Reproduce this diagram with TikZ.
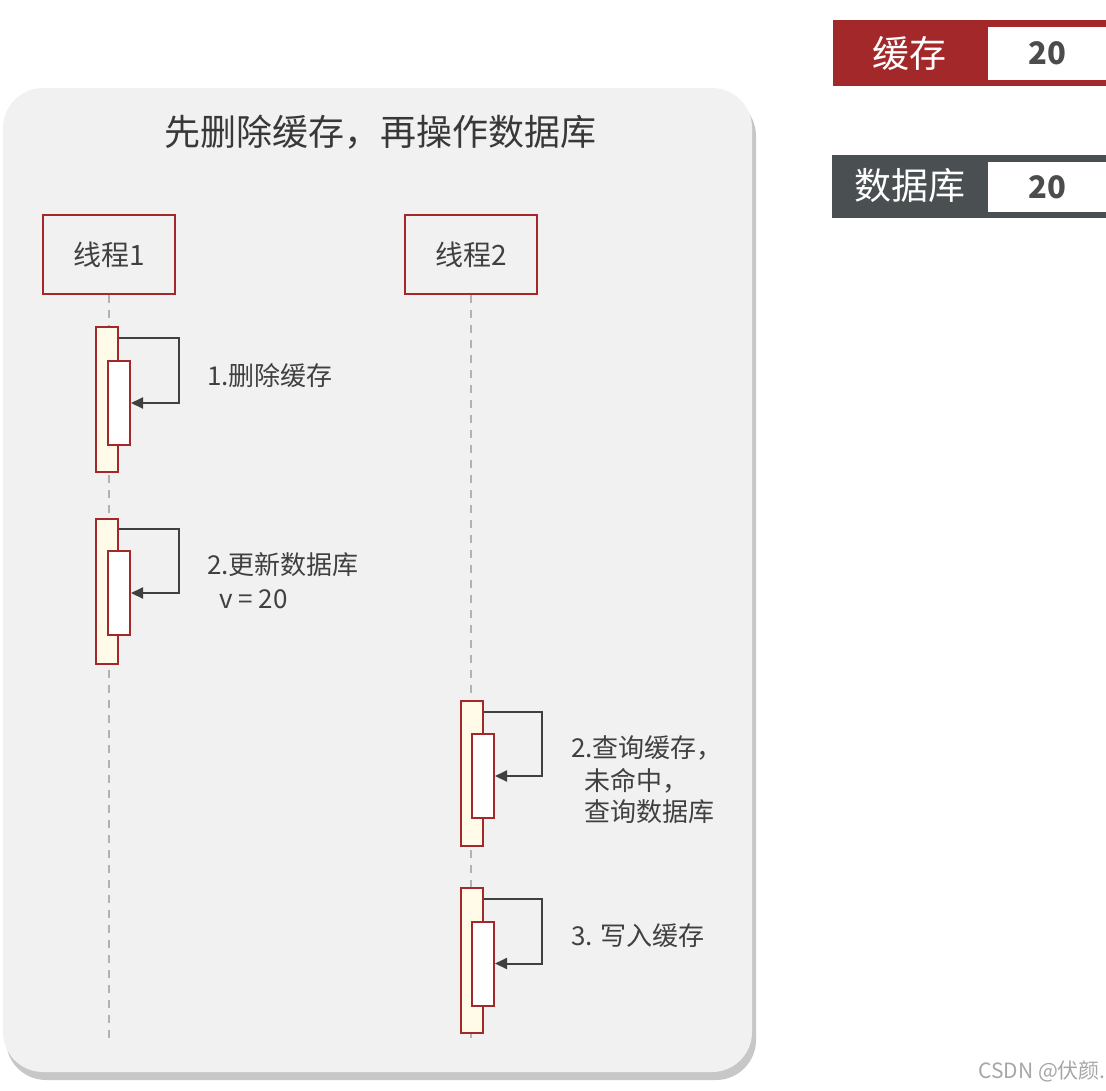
\documentclass[tikz,border=0pt]{standalone}
\usepackage{fontspec}
\setmainfont{Noto Sans CJK SC}
\usetikzlibrary{arrows.meta}
\definecolor{darkred}{HTML}{A3282A}
\definecolor{actfill}{HTML}{FFFBE8}
\definecolor{panel}{HTML}{F1F1F1}
\definecolor{txt}{HTML}{404040}
\definecolor{slate}{HTML}{4A4F51}
\tikzset{
  thread/.style={draw=darkred, line width=2pt, minimum width=132pt, minimum height=79pt, font=\fontsize{28}{30}\selectfont, text=txt},
  actout/.style={draw=darkred, fill=actfill, line width=2pt, minimum width=22pt, minimum height=145pt, inner sep=0pt},
  actin/.style={draw=darkred, fill=white, line width=2pt, minimum width=22pt, minimum height=84pt, inner sep=0pt},
  selfmsg/.style={draw=txt, line width=2pt, -{Triangle[length=12pt, width=11pt]}},
  lifeline/.style={draw=black!30, line width=1.5pt, dash pattern=on 8pt off 7pt},
  msg/.style={anchor=west, font=\fontsize{26}{28}\selectfont, text=txt, inner sep=0pt},
}
\begin{document}
\begin{tikzpicture}[x=1pt, y=-1pt]
    \useasboundingbox (0,0) rectangle (1106,1090);
    \fill[black!22, rounded corners=40pt] (6,96) rectangle (756,1080);
    \fill[panel, rounded corners=40pt] (3,88) rectangle (752,1072);
    \node (title) [font=\fontsize{36}{38}\selectfont, text=black!78] at (380,132) {先删除缓存，再操作数据库};

    \node (t1) [thread] at (109,254.5) {线程1};
    \node (t2) [thread] at (471,254.5) {线程2};
    \coordinate (e1) at (109,1040);
    \coordinate (e2) at (471,1040);
    \draw[lifeline] (t1.south) -- (e1);
    \draw[lifeline] (t2.south) -- (e2);

    \node (a1o) [actout] at (107,399.5) {};
    \node (a1i) [actin] at (119,403) {};
    \node (a2o) [actout] at (107,591) {};
    \node (a2i) [actin] at (119,593) {};
    \node (a3o) [actout] at (472,773) {};
    \node (a3i) [actin] at (483,776) {};
    \node (a4o) [actout] at (472,960.5) {};
    \node (a4i) [actin] at (483,963.5) {};

    \draw[selfmsg] ([yshift=-12pt]a1o.north east) -- ++(60,0) |- (a1i.east);
    \draw[selfmsg] ([yshift=-11pt]a2o.north east) -- ++(60,0) |- (a2i.east);
    \draw[selfmsg] ([yshift=-12pt]a3o.north east) -- ++(58,0) |- (a3i.east);
    \draw[selfmsg] ([yshift=-12pt]a4o.north east) -- ++(58,0) |- (a4i.east);

    \node (m1) [msg] at (207,376) {1.删除缓存};
    \node (m2) [msg] at (207,565) {2.更新数据库};
    \node (m2v) [msg] at (219,599) {v = 20};
    \node (m3) [msg] at (571,748) {2.查询缓存，};
    \node (m3b) [msg] at (584,781) {未命中，};
    \node (m3c) [msg] at (584,812) {查询数据库};
    \node (m4) [msg] at (571,936) {3. 写入缓存};

    \node (cache) [fill=darkred, minimum width=273pt, minimum height=66pt, anchor=north west, inner sep=0pt] at (833,20) {};
    \node (cachev) [fill=white, minimum width=118pt, minimum height=53pt, anchor=north west, font=\fontsize{31}{33}\selectfont\bfseries, text=black!70] at (988,27) {20};
    \node (cachel) [text=white, font=\fontsize{37}{38}\selectfont] at (909,53) {缓存};

    \node (db) [fill=slate, minimum width=274pt, minimum height=63pt, anchor=north west, inner sep=0pt] at (832,155) {};
    \node (dbv) [fill=white, minimum width=118pt, minimum height=50pt, anchor=north west, font=\fontsize{31}{33}\selectfont\bfseries, text=black!70] at (988,162) {20};
    \node (dbl) [text=white, font=\fontsize{37}{38}\selectfont] at (910,186) {数据库};

    \node (wm) [anchor=east, text=black!35, font=\fontsize{21}{22}\selectfont, inner sep=0pt] at (1106,1071) {CSDN @伏颜.};
\end{tikzpicture}
\end{document}
